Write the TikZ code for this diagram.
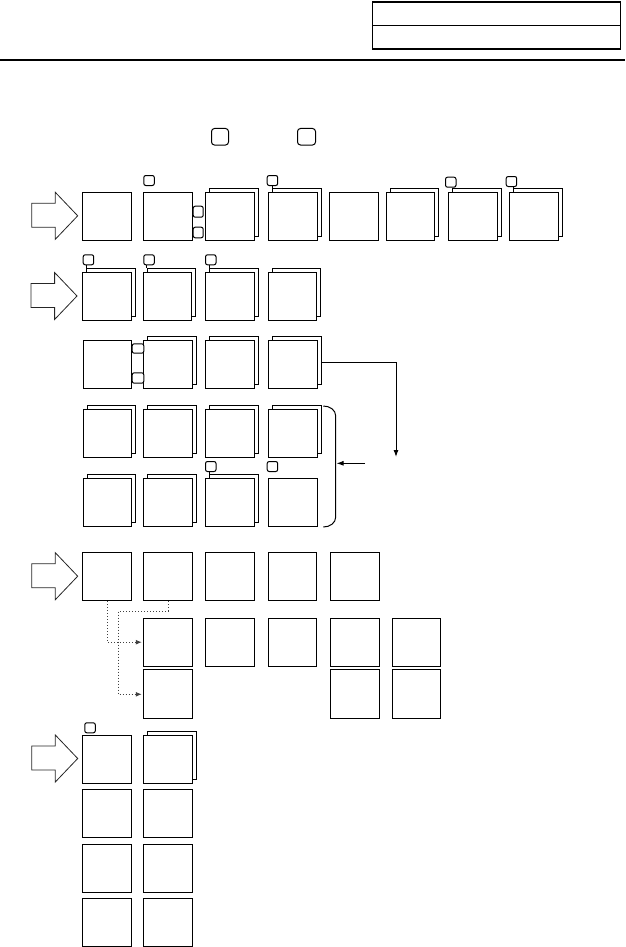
\documentclass[tikz,border=0pt]{standalone}
\usetikzlibrary{shadows,arrows.meta}
\begin{document}
\begin{tikzpicture}[x=1pt,y=-1pt,
  box/.style={draw, fill=white, line width=1pt, minimum width=48.5pt, minimum height=48pt, inner sep=0pt, anchor=north west},
  stacked/.style={box, copy shadow={shadow xshift=4pt, shadow yshift=4pt}},
  key/.style={draw, fill=white, rounded corners=2pt, line width=1pt, minimum width=10.5pt, minimum height=10pt, inner sep=0pt, anchor=north west},
  bigkey/.style={key, rounded corners=3pt, minimum width=17pt, minimum height=16.5pt},
  hdr/.style={draw, line width=1.3pt, minimum width=248pt, minimum height=23.5pt, inner sep=0pt, anchor=north west},
  stem/.style={line width=1pt},
  conn/.style={line width=1pt, -{Latex[length=7pt,width=5pt]}},
  dotconn/.style={line width=1pt, dotted, draw=black!75, -{Latex[length=6pt,width=5pt]}, shorten >=1.5pt},
  bigarrow/.pic={\draw[line width=0.8pt, draw=black!85] (0,11) -- (23.6,11) -- (23.6,0) -- (46,23.5) -- (23.6,47) -- (23.6,35) -- (0,35) -- cycle;}
]
\useasboundingbox (0,0) rectangle (625,947);

% header
\node[hdr] (hdrA) at (372,1.5) {};
\node[hdr] (hdrB) at (372,25) {};
\coordinate (ruleL) at (0,60);
\coordinate (ruleR) at (625,60);
\draw[line width=1.3pt] (ruleL) -- (ruleR);

% legend keys
\node[bigkey] (legA) at (211,128) {};
\node[bigkey, minimum width=18pt] (legB) at (297,128) {};

% big arrows
\pic at (31.7,192.3) {bigarrow};
\pic at (31,272.5) {bigarrow};
\pic at (31.7,552.7) {bigarrow};
\pic at (31.7,735) {bigarrow};

% row 1
\node[box] (r1c1) at (82.3,192.3) {};
\node[box] (r1c2) at (143.3,192.3) {};
\node[stacked] (r1c3) at (205,192.3) {};
\node[stacked] (r1c4) at (268.3,192.3) {};
\node[box] (r1c5) at (329,192.3) {};
\node[stacked] (r1c6) at (385.7,192.3) {};
\node[stacked] (r1c7) at (448.3,192.3) {};
\node[stacked] (r1c8) at (509.3,192.3) {};
\node[key] (k12) at (143.3,175) {};
\node[key, minimum width=10pt, minimum height=11pt] (k12a) at (192.7,205.7) {};
\node[key, minimum width=10pt, minimum height=10.6pt] (k12b) at (192.7,226.7) {};
\node[key] (k14) at (266.7,175) {};
\node[key] (k17) at (445,176.7) {};
\node[key] (k18) at (505.7,176) {};
\coordinate (b14) at ([shift={(4pt,4pt)}]r1c4.north west);
\coordinate (b17) at ([shift={(4pt,4pt)}]r1c7.north west);
\coordinate (b18) at ([shift={(4pt,4pt)}]r1c8.north west);
\draw[stem] (b14) -- (b14 |- k14.south);
\draw[stem] (b17) -- (b17 |- k17.south);
\draw[stem] (b18) -- (b18 |- k18.south);

% row 2
\node[stacked] (r2c1) at (82.3,271.7) {};
\node[stacked] (r2c2) at (142.7,271.7) {};
\node[stacked] (r2c3) at (205,271.7) {};
\node[stacked] (r2c4) at (267.7,271.7) {};
\node[key] (k21) at (82.7,254.3) {};
\node[key] (k22) at (143.3,254.3) {};
\node[key] (k23) at (205,254.3) {};
\coordinate (b21) at ([shift={(4pt,4pt)}]r2c1.north west);
\coordinate (b22) at ([shift={(4pt,4pt)}]r2c2.north west);
\coordinate (b23) at ([shift={(4pt,4pt)}]r2c3.north west);
\draw[stem] (b21) -- (b21 |- k21.south);
\draw[stem] (b22) -- (b22 |- k22.south);
\draw[stem] (b23) -- (b23 |- k23.south);

% row 3
\node[box] (r3c1) at (82.7,340) {};
\node[stacked] (r3c2) at (143.3,340) {};
\node[stacked] (r3c3) at (205,340) {};
\node[stacked] (r3c4) at (268.3,340) {};
\node[key, minimum width=11.6pt, minimum height=9.4pt] (k31a) at (131.7,343.3) {};
\node[key, minimum width=11.6pt, minimum height=10.4pt] (k31b) at (131.7,372.3) {};

% row 4
\node[stacked] (r4c1) at (82.7,409) {};
\node[stacked] (r4c2) at (143.3,409) {};
\node[stacked] (r4c3) at (205,409) {};
\node[stacked] (r4c4) at (268.3,409) {};

% row 5
\node[stacked] (r5c1) at (82.7,478.3) {};
\node[stacked] (r5c2) at (143.3,478.3) {};
\node[stacked] (r5c3) at (205,478.3) {};
\node[box] (r5c4) at (268.3,478.3) {};
\node[key] (k53) at (205,461) {};
\node[key] (k54) at (266.7,461) {};
\coordinate (b53) at ([shift={(4pt,4pt)}]r5c3.north west);
\draw[stem] (b53) -- (b53 |- k53.south);

% connector from row 3 and brace
\coordinate (c3s) at (321,362.3);
\coordinate (c3k) at (396,362.3);
\coordinate (c3e) at (396,457);
\draw[conn] (c3s) -- (c3k) -- (c3e);
\coordinate (brTop) at (323.3,406);
\coordinate (brBot) at (323.3,527);
\draw[line width=1pt] (brTop) .. controls (330,406) and (335.7,410) .. (335.7,416) -- (335.7,517) .. controls (335.7,523) and (330,527) .. (brBot);
\coordinate (brMid) at (336.5,463.3);
\coordinate (brIn) at (365,463.3);
\draw[conn] (brIn) -- (brMid);

% row 6
\node[box] (r6c1) at (82.3,552.3) {};
\node[box] (r6c2) at (143.3,552.3) {};
\node[box] (r6c3) at (205,552.3) {};
\node[box] (r6c4) at (267.7,552.3) {};
\node[box] (r6c5) at (330,552.3) {};

% row 7
\node[box] (r7c2) at (143.3,617.7) {};
\node[box] (r7c3) at (205,617.7) {};
\node[box] (r7c4) at (267.7,617.7) {};
\node[box] (r7c5) at (330,617.7) {};
\node[box] (r7c6) at (391.7,617.7) {};

% row 8
\node[box, minimum height=49pt] (r8c2) at (143.3,669.3) {};
\node[box, minimum height=49pt] (r8c5) at (330,669.3) {};
\node[box, minimum height=49pt] (r8c6) at (391.7,669.3) {};

% dotted connectors
\coordinate (dj) at (118.3,611);
\draw[dotconn] (r6c1.south) |- (r7c2.west);
\draw[dotconn] (r6c2.south) |- (dj) |- (r8c2.west);

% row 9
\node[box] (r9c1) at (82.3,735) {};
\node[stacked] (r9c2) at (143.3,735) {};
\node[key] (k91) at (84.3,722.3) {};

% rows 10-12
\node[box] (r10c1) at (82.3,789.3) {};
\node[box] (r10c2) at (143.3,789.3) {};
\node[box] (r11c1) at (82.3,844.3) {};
\node[box] (r11c2) at (143.3,844.3) {};
\node[box] (r12c1) at (82.3,898.3) {};
\node[box] (r12c2) at (143.3,898.3) {};
\end{tikzpicture}
\end{document}
